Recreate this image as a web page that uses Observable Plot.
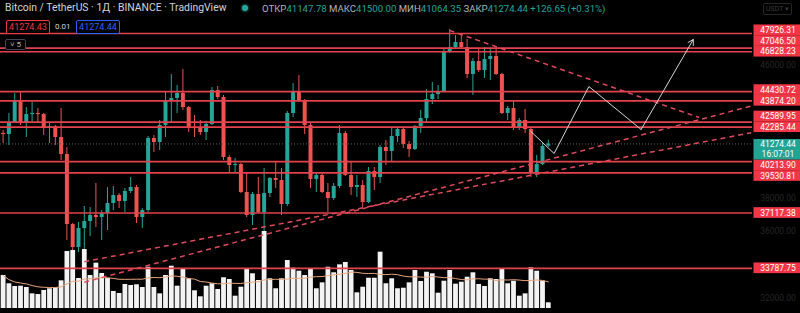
<!DOCTYPE html>
<html><head><meta charset="utf-8">
<script src="https://cdn.jsdelivr.net/npm/d3@7"></script>
<script src="https://cdn.jsdelivr.net/npm/@observablehq/plot@0.6"></script>
<style>
html,body{margin:0;padding:0;background:#000;}
#wrap{position:relative;width:800px;height:313px;overflow:hidden;background:#000;font-family:Roboto,"Liberation Sans",Arial,sans-serif;}
#wrap svg{position:absolute;left:0;top:0;}
.h{position:absolute;white-space:nowrap;line-height:1;}
.box{position:absolute;box-sizing:border-box;border-radius:2px;text-align:center;white-space:nowrap;}
</style></head><body><div id="wrap"></div>
<script>
// ---- data (daily BTC/USDT, first bar 2022-01-10) ----
const firstDay = "2022-01-10";
const open = [41904,41844,42566,43831,42506,43048,43108,43048,
  42205,42325,41663,40639,36424,35039,36183,36604,36966,36845,
  37086,37688,38170,37809,38411,38652,36845,37267,41603,41362,
  42386,43831,44011,44313,43469,42265,42205,41964,42446,44493,
  44072,40458,39977,40037,38351,36966,38230,37146,38291,39194,
  39073,37628,43108,44373,43831,42386,39134,39374,38351,37989,
  38712,41904,39374,38652,38773,37749,39615,39254,41061,40820,
  41723,42145,41241,40940,42325,42807,43951,44252,44433,46782,
  47083,47384,47083,45457,46239,45697,46360,46541,45457,43108,
  43409,42205,42687,42145,39495,40037,41147.78];
const high = [42084,43108,44313,44373,43469,43771,43409,43108,
  42506,42386,43409,41061,36484,36544,37508,37448,38893,37267,
  38652,38712,38291,38592,39254,38773,37388,41723,41783,42687,
  44373,45457,44794,45757,43530,42988,42687,42626,44674,44734,
  44192,40579,40398,40097,39495,38351,39254,39796,39254,40157,
  39796,43229,44915,45396,43951,42506,39495,39495,38893,38893,
  42386,42024,40157,39374,39073,39856,39856,41181,41482,42265,
  42265,42265,41422,42386,43289,44553,44975,44794,46962,48167,
  47805,47926,47564,46420,47022,47083,47083,47022,45517,43530,
  43831,42807,43349,42205,40579,41362,41500];
const low = [41300,41181,42506,42386,41663,42566,42566,41783,
  41302,41181,40278,35460,34100,34738,32950,35700,36243,35460,
  36062,37267,37388,37146,38291,36484,36183,37146,40760,40880,
  41663,42566,43108,43289,41964,41663,41783,41482,42386,43951,
  40278,39495,39555,38291,36845,36363,37086,34400,38050,38592,
  36966,37508,42867,43771,41844,38592,38351,38291,37146,37869,
  38592,39314,38170,38050,37448,37688,38471,38893,39977,40157,
  41362,41001,40458,40880,41904,42566,43650,43951,44373,46721,
  47022,47022,45216,44192,45577,45216,45095,45396,43048,42687,
  42084,42084,41904,39254,39254,39977,41064.35];
const close = [41844,42566,43831,42506,43048,43108,43048,42205,
  42325,41663,40639,36424,35039,36183,36604,36966,36845,37086,
  37688,38170,37809,38411,38652,36845,37267,41603,41362,42386,
  43831,44011,44313,43469,42265,42205,41964,42446,44493,44072,
  40458,39977,40037,38351,36966,38230,37146,38291,39194,39073,
  37628,43108,44373,43831,42386,39134,39374,38351,37989,38712,
  41904,39374,38652,38773,37749,39615,39254,41061,40820,41723,
  42145,41241,40940,42325,42807,43951,44252,44433,46782,47083,
  47384,47083,45457,46239,45697,46360,46541,45457,43108,43409,
  42205,42687,42145,39495,40037,41121,41274.44];
// volume, thousand BTC
const volume = [42.3,31.7,28.2,28.6,26.9,18.8,17.9,23.1,
  25.3,26.5,35.5,73.1,74.4,38.5,75.6,42.3,58.1,44.9,
  38.5,21.8,19.2,30.8,29.5,30.4,26.9,52.9,26.9,18.8,
  42.3,54.2,28.6,50.9,38.1,22.7,15.0,28.6,31.7,24.4,
  39.4,37.2,15.8,27.3,50.9,44.5,35.9,98.7,38.1,25.3,
  38.1,61.5,51.7,47.8,42.3,50.9,25.3,32.9,52.9,45.8,
  56.0,59.0,48.7,20.1,27.3,38.8,38.8,72.2,31.7,38.1,
  25.3,26.0,32.9,48.7,34.6,46.5,44.5,19.6,35.0,48.7,
  31.2,33.7,40.1,45.8,30.8,28.2,38.1,37.2,50.9,31.7,
  35.0,15.8,18.8,52.2,47.8,35.0,7.3];

// horizontal levels drawn on the chart
const levels = [47926.31,47046.50,46828.23,44430.72,43874.20,42589.95,42285.44,40213.90,39530.81,37117.38,33787.75];
const lastPrice = 41274.44;
const lastTime = "16:07:01";
// dashed trend lines
const trendStart = ["2022-03-28","2022-01-24","2022-01-24"];
const trendStartPrice = [48107,32950,34183];
const trendEnd = ["2022-05-10","2022-05-19","2022-05-19"];
const trendEndPrice = [42867,43560,41952];
// projected path (white zig-zag with arrow)
const pathDates = ["2022-04-11","2022-04-15","2022-04-21","2022-04-30","2022-05-09"];
const pathPrices = [42024,40699,44734,42145,47565];
// price axis tick values
const tickValues = [32000,34000,36000,38000,40000,42000,44000,46000,48000];

// ---- build tables ----
const up = "#26a69a", down = "#ef5350";
const day0 = d3.utcParse("%Y-%m-%d")(firstDay);
const dates = open.map((_, i) => d3.utcDay.offset(day0, i));
const candles = dates.map((date, i) => {
  const o = open[i], c = close[i];
  let top = Math.max(o, c), bot = Math.min(o, c);
  if (top - bot < 70) { const m = (top + bot) / 2; top = m + 35; bot = m - 35; }
  return {date, open: o, high: high[i], low: low[i], close: c, top, bot, vol: volume[i], col: c >= o ? up : down};
});
const P = d3.utcParse("%Y-%m-%d");
const trends = trendStart.map((d, i) => ({x1: P(d), y1: trendStartPrice[i], x2: P(trendEnd[i]), y2: trendEndPrice[i]}));
const path = pathDates.map((d, i) => ({date: P(d), price: pathPrices[i]}));

const W = 800, H = 313, MR = 48;
const DAY = 864e5;
const ref = dates[8];
const xDomain = [new Date(+ref - 8.448 * DAY), new Date(+ref + 121.207 * DAY)];
const yDomain = [31066, 49913];
const yS = d3.scaleLinear().domain(yDomain).range([H, 0]);
const xS = d3.scaleUtc().domain(xDomain).range([0, W - MR]);

// price labels on the right, stacked so they do not overlap
const LH = 10.7;
const yCur = yS(lastPrice);
const curTop = yCur - 4.5, curBot = yCur + 16;
const lab = [];
let prev = curTop + LH / 2;
levels.filter(p => p > lastPrice).sort(d3.ascending).forEach(p => {
  const y = Math.min(yS(p), prev - LH); lab.push({p, y}); prev = y;
});
prev = curBot - LH / 2;
levels.filter(p => p < lastPrice).sort(d3.descending).forEach(p => {
  const y = Math.max(yS(p), prev + LH); lab.push({p, y}); prev = y;
});
const xa = xS.invert(W - MR + 1.5), xb = xS.invert(W + 1), xt = xS.invert(W - MR / 2 + 1.5);
const labelBoxes = lab.map(d => ({xa, xb, y1: yS.invert(d.y - LH / 2), y2: yS.invert(d.y + LH / 2), fill: "#f23645"}));
labelBoxes.push({xa, xb, y1: yS.invert(curTop), y2: yS.invert(curBot), fill: "#22a393"});
const labelTexts = lab.map(d => ({x: xt, y: yS.invert(d.y), t: d.p.toFixed(2)}));
labelTexts.push({x: xt, y: lastPrice, t: lastPrice.toFixed(2)});
labelTexts.push({x: xt, y: yS.invert(yCur + 10.3), t: lastTime});
const occupied = lab.map(d => d.y).concat([yCur, yCur + 10]);
const ticks = tickValues.filter(v => occupied.every(y => Math.abs(yS(v) - y) > 10))
  .map(v => ({x: xt, y: v, t: v.toFixed(2)}));

const base = {
  width: W, height: H, marginLeft: 0, marginRight: MR, marginTop: 0, marginBottom: 0,
  x: {type: "utc", domain: xDomain, axis: null},
  y: {domain: yDomain, axis: null},
  color: {type: "identity"},
  style: {background: "transparent", overflow: "visible"}
};
const FF = "Roboto, 'Liberation Sans', Arial, sans-serif";

const candlePlot = Plot.plot({...base, marks: [
  Plot.ruleX(candles, {x: "date", y1: "low", y2: "high", stroke: "col", strokeWidth: 1}),
  Plot.ruleX(candles, {x: "date", y1: "bot", y2: "top", stroke: "col", strokeWidth: 4})
]});

const volPlot = Plot.plot({...base, marginBottom: 5,
  y: {domain: [0, 100 * 308 / 78], axis: null},
  marks: [
    Plot.ruleX(candles, {x: "date", y1: 0, y2: "vol", stroke: "#f3f3f3", strokeWidth: 4.8}),
    Plot.lineY(candles, Plot.windowY({k: 20, anchor: "end"}, {x: "date", y: "vol", stroke: "#e8a57c", strokeWidth: 1}))
  ]});

const drawPlot = Plot.plot({...base, marks: [
  Plot.ruleY([lastPrice], {stroke: "#5d6068", strokeWidth: 1, strokeDasharray: "1,2"}),
  Plot.ruleY(levels, {stroke: "#e2434e", strokeWidth: 1.7}),
  Plot.link(trends, {x1: "x1", y1: "y1", x2: "x2", y2: "y2", stroke: "#e04a5c", strokeWidth: 1.5, strokeDasharray: "5,4"}),
  Plot.line(path.slice(0, 4), {x: "date", y: "price", stroke: "#d6d6d6", strokeWidth: 1}),
  Plot.arrow([{a: path[3], b: path[4]}], {x1: d => d.a.date, y1: d => d.a.price, x2: d => d.b.date, y2: d => d.b.price, stroke: "#d6d6d6", strokeWidth: 1, headLength: 9}),
  Plot.rect(labelBoxes, {x1: "xa", x2: "xb", y1: "y1", y2: "y2", fill: "fill"}),
  Plot.text(labelTexts, {x: "x", y: "y", text: "t", fill: "#ffffff", fontSize: 8.5, fontFamily: FF}),
  Plot.text(ticks, {x: "x", y: "y", text: "t", fill: "#262626", fontSize: 8.5, fontFamily: FF})
]});

const wrap = document.getElementById("wrap");
wrap.append(candlePlot, volPlot, drawPlot);

// ---- header (legend) ----
const hdr = document.createElement("div");
hdr.innerHTML = `
<div class="h" style="left:5px;top:3px;font-size:10.4px;color:#d1d4dc;">Bitcoin / TetherUS · 1Д · BINANCE · TradingView</div>
<div class="h" style="left:242px;top:5px;width:6px;height:6px;border-radius:50%;background:#26a69a;box-shadow:0 0 3px #26a69a;"></div>
<div class="h" style="left:262px;top:4px;font-size:9.6px;color:#b2b5be;">ОТКР<span style="color:#26a69a">${open[open.length-1].toFixed(2)}</span> МАКС<span style="color:#26a69a">${high[high.length-1].toFixed(2)}</span> МИН<span style="color:#26a69a">${low[low.length-1].toFixed(2)}</span> ЗАКР<span style="color:#26a69a">${lastPrice.toFixed(2)} +126.65 (+0.31%)</span></div>
<div class="box" style="left:6px;top:20px;width:44px;height:14px;border:1px solid #f23645;color:#f23645;font-size:9px;line-height:12px;background:#000;">41274.43</div>
<div class="h" style="left:55px;top:23px;font-size:8px;color:#d1d4dc;">0.01</div>
<div class="box" style="left:76px;top:20px;width:44px;height:14px;border:1px solid #2962ff;color:#2962ff;font-size:9px;line-height:12px;background:#000;">41274.44</div>
<div class="box" style="left:5px;top:39px;width:21px;height:11px;border:1px solid #434651;color:#b2b5be;font-size:8px;line-height:9px;background:#000;">˅ 5</div>
<div class="box" style="left:763px;top:3px;width:29px;height:12px;border:1px solid #262626;color:#3c3c3c;font-size:7px;line-height:10px;">USDT ▾</div>`;
wrap.append(hdr);
</script></body></html>
